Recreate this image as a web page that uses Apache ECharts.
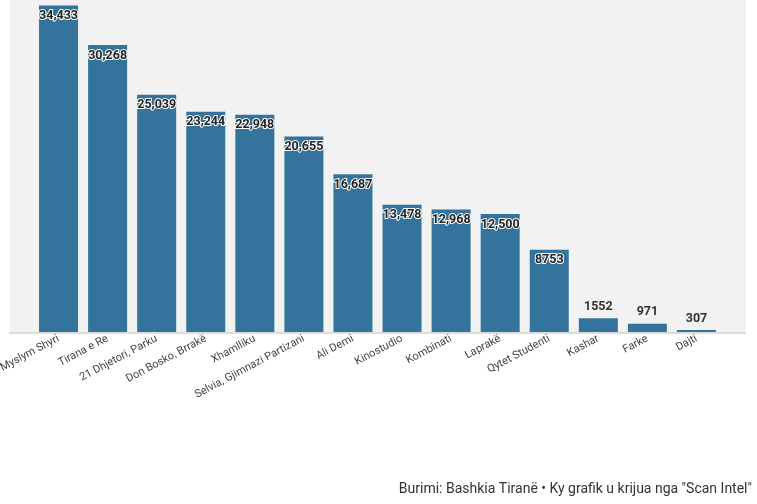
<!DOCTYPE html>
<html lang="sq">
<head>
<meta charset="utf-8" />
<title>Bashkia Tiranë</title>
<style>
  html, body { margin: 0; padding: 0; background: #fff; }
  #main { width: 757px; height: 504px; }
</style>
</head>
<body>
<div id="main"></div>
<script src="https://cdn.jsdelivr.net/npm/echarts@6/dist/echarts.min.js"></script>
<script>
// te dhenat
var categories = ['Myslym Shyri', 'Tirana e Re', '21 Dhjetori, Parku', 'Don Bosko, Brrakë', 'Xhamlliku',
  'Selvia, Gjimnazi Partizani', 'Ali Demi', 'Kinostudio', 'Kombinati', 'Laprakë',
  'Qytet Studenti', 'Kashar', 'Farke', 'Dajti'];
var values = [34433, 30268, 25039, 23244, 22948, 20655, 16687, 13478, 12968, 12500, 8753, 1552, 971, 307];
var insideLimit = 5000;   // bars taller than this get the label inside

var chart = echarts.init(document.getElementById('main'));

function fmt(v) {
  return v >= 10000 ? v.toLocaleString('en-US') : String(v);
}

var barData = values.map(function (v) {
  var inside = v > insideLimit;
  return {
    value: v,
    label: inside ? {
      position: 'insideTop', distance: 4, color: '#222',
      textBorderColor: '#fff', textBorderWidth: 2
    } : {
      position: 'top', distance: 5, color: '#333'
    }
  };
});

chart.setOption({
  animation: false,
  graphic: [
    { type: 'rect', z: -10, shape: { x: 10, y: 0, width: 736, height: 333 }, style: { fill: '#f2f2f2' } },
    { type: 'line', z: 10, shape: { x1: 9, y1: 333, x2: 746, y2: 333 }, style: { stroke: '#dcdcdc', lineWidth: 2 } },
    {
      type: 'text', right: 5, bottom: 8,
      style: {
        text: 'Burimi: Bashkia Tiranë • Ky grafik u krijua nga "Scan Intel"',
        font: '14px Roboto', fill: '#333'
      }
    }
  ],
  grid: { left: 34, right: 36, top: 0, bottom: 171, containLabel: false, outerBoundsMode: 'none' },
  xAxis: {
    type: 'category',
    data: categories,
    axisLine: { show: false },
    axisTick: { show: false },
    axisLabel: {
      interval: 0, rotate: 28, margin: 5,
      color: '#444', fontSize: 11, fontFamily: 'Roboto'
    }
  },
  yAxis: {
    type: 'value', min: 0, max: 35000,
    show: false,
    splitLine: { show: false }
  },
  series: [{
    type: 'bar',
    data: barData,
    barWidth: 39,
    itemStyle: { color: '#33739c' },
    label: {
      show: true,
      fontSize: 12.5, fontWeight: 'bold', fontFamily: 'Roboto',
      formatter: function (p) { return fmt(p.value); }
    }
  }]
});
</script>
</body>
</html>
